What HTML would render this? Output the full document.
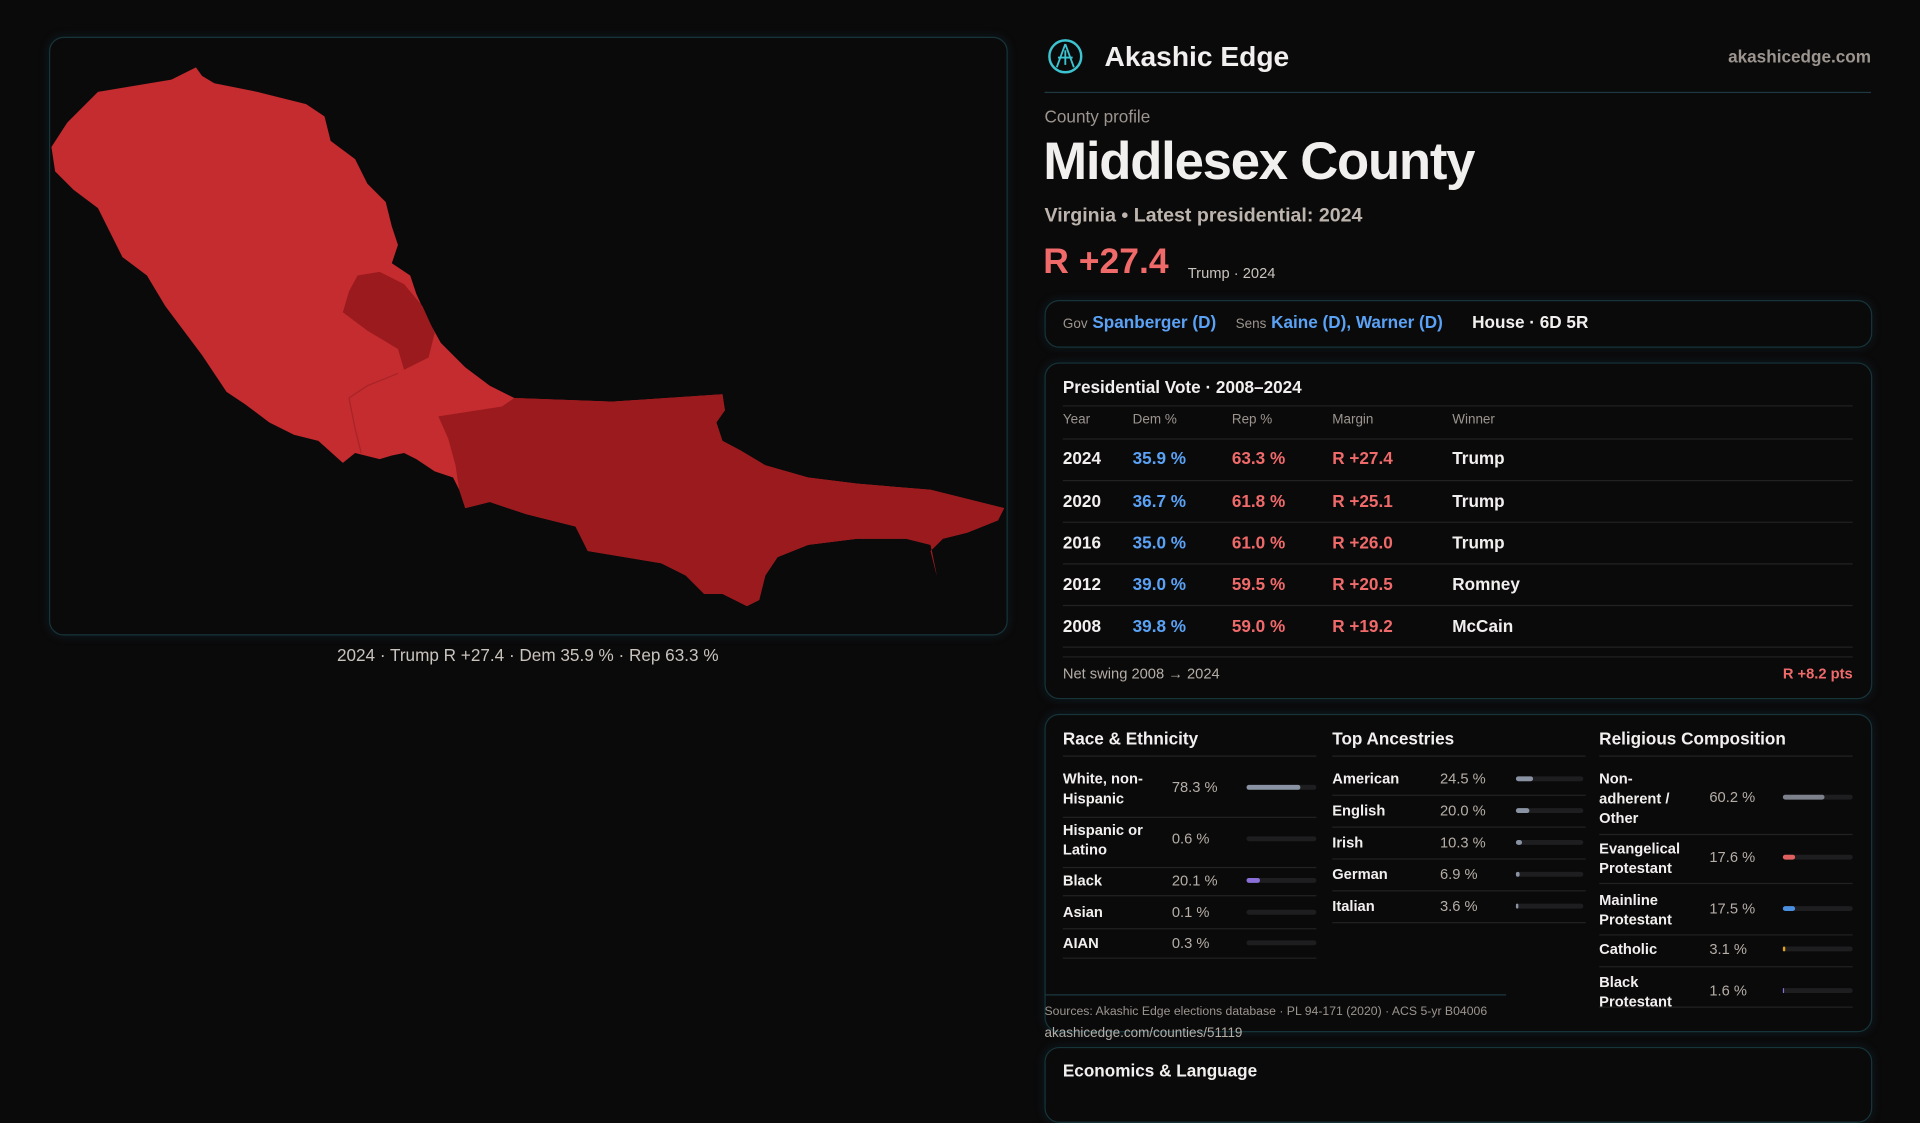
<!DOCTYPE html>
<html><head><meta charset="utf-8">
<style>
html,body{margin:0;padding:0;background:#0b0a0b;width:1920px;height:1080px;overflow:hidden}
#w{position:absolute;left:0;top:0;width:1568px;height:882px;transform:scale(1.22449);transform-origin:0 0;font-family:"Liberation Sans",sans-serif;color:#f2f0ee}
.a{position:absolute;white-space:nowrap}
.box{position:absolute;border:1px solid #16343a;border-radius:12px;background:#0b0a0b;box-shadow:0 0 8px rgba(20,80,90,0.25)}
.hl{position:absolute;height:1px;background:#222}
.g{color:#9c958f}
.b{color:#5aa2f5}
.r{color:#f06a6a}
.bar{position:absolute;height:4px;border-radius:2px;background:#1e1e20}
.bar i{position:absolute;left:0;top:0;height:4px;border-radius:2px}
.t{font-size:13px;font-weight:bold}
.s{font-size:12px}
</style></head><body><div id="w">
<div class="box" style="left:40px;top:30px;width:781px;height:487px"></div>
<svg class="a" style="left:0;top:0" width="1568" height="882" viewBox="0 0 1568 882">
<path fill="#c42c2f" d="M160,55 L165,62 175,68 210,75 250,85 265,95 270,115 290,130 300,150 315,165 320,185 325,200 320,215 335,225 340,240 350,262 360,280 380,300 400,315 420,325 500,328 590,322 592,335 585,345 590,360 605,368 625,380 660,390 700,395 760,400 800,410 820,415 815,425 790,435 770,440 760,450 765,470 760,445 740,440 700,440 660,445 635,455 625,470 620,490 610,495 590,485 575,485 560,470 540,460 510,455 480,450 470,430 430,420 400,410 380,415 375,400 370,390 355,385 340,375 330,370 320,372 310,375 290,370 280,378 260,360 240,355 220,345 200,330 185,320 175,305 165,290 150,270 135,250 120,225 100,210 90,190 80,170 60,155 45,140 42,120 55,100 80,75 110,70 140,65Z"/>
<path fill="#9a1a1d" d="M358,340 L410,332 420,325 500,328 590,322 592,335 585,345 590,360 605,368 625,380 660,390 700,395 760,400 800,410 820,415 815,425 790,435 770,440 760,450 765,470 760,445 740,440 700,440 660,445 635,455 625,470 620,490 610,495 590,485 575,485 560,470 540,460 510,455 480,450 470,430 430,420 400,410 380,415 375,400 372,380 366,358Z"/>
<path fill="#9a1a1d" d="M292,225 L310,222 330,232 345,250 355,272 350,292 330,302 325,285 300,270 280,255 285,238Z"/>
<path fill="none" stroke="#a82427" stroke-width="1" d="M285,325 L300,315 325,305 M285,325 L290,350 295,370"/>
</svg>
<div class="a g" style="left:0;width:862px;text-align:center;top:527px;font-size:14px;color:#c9c3bd">2024 · Trump R +27.4 · Dem 35.9 % · Rep 63.3 %</div>

<svg class="a" style="left:855px;top:31px" width="30" height="30" viewBox="0 0 30 30"><circle cx="15" cy="15" r="13" fill="none" stroke="#3cc4d0" stroke-width="2"/><path d="M15,5 L8,24 M15,5 L22,24 M9,16 L21,16 M15,10 L15,22" stroke="#3cc4d0" stroke-width="1.5" fill="none"/></svg>
<div class="a" style="left:902px;top:33px;font-size:23px;font-weight:bold">Akashic Edge</div>
<div class="a g" style="right:40px;top:38px;font-size:14px;font-weight:bold">akashicedge.com</div>
<div class="hl" style="left:853px;width:675px;top:75px;background:#1c3a40"></div>
<div class="a g" style="left:853px;top:87px;font-size:14px">County profile</div>
<div class="a" style="left:852px;top:108px;font-size:43px;font-weight:bold;letter-spacing:-1px">Middlesex County</div>
<div class="a" style="left:853px;top:168px;font-size:16px;font-weight:bold;color:#bdb5ad">Virginia • Latest presidential: 2024</div>
<div class="a r" style="left:852px;top:198px;font-size:29px;font-weight:bold">R +27.4</div>
<div class="a" style="left:970px;top:216px;font-size:12px;color:#c9c3bd">Trump · 2024</div>

<div class="box" style="left:853px;top:245px;width:674px;height:37px"></div>
<div class="a" style="left:868px;top:255px;font-size:14px"><span class="g" style="font-size:11px">Gov</span> <span class="b" style="font-weight:bold;margin-right:12px">Spanberger (D)</span> <span class="g" style="font-size:11px">Sens</span> <span class="b" style="font-weight:bold;margin-right:20px">Kaine (D), Warner (D)</span> <span style="font-weight:bold">House · 6D 5R</span></div>

<div class="box" style="left:853px;top:296px;width:674px;height:273px"></div>
<div class="a t" style="left:868px;top:308px;font-size:14px">Presidential Vote · 2008–2024</div>
<div class="hl" style="left:868px;width:645px;top:331px"></div>
<div class="a g" style="left:868px;top:337px;font-size:11px">Year</div>
<div class="a g" style="left:925px;top:337px;font-size:11px">Dem %</div>
<div class="a g" style="left:1006px;top:337px;font-size:11px">Rep %</div>
<div class="a g" style="left:1088px;top:337px;font-size:11px">Margin</div>
<div class="a g" style="left:1186px;top:337px;font-size:11px">Winner</div>
<div class="hl" style="left:868px;width:645px;top:358px"></div>
<div style="position:absolute;left:868px;top:358px;width:645px;font-size:14px;font-weight:bold">
<div style="position:relative;height:34px;border-bottom:1px solid #222"><span class="a" style="left:0;top:8px">2024</span><span class="a b" style="left:57px;top:8px">35.9 %</span><span class="a r" style="left:138px;top:8px">63.3 %</span><span class="a r" style="left:220px;top:8px">R +27.4</span><span class="a" style="left:318px;top:8px">Trump</span></div>
<div style="position:relative;height:33px;border-bottom:1px solid #222"><span class="a" style="left:0;top:8px">2020</span><span class="a b" style="left:57px;top:8px">36.7 %</span><span class="a r" style="left:138px;top:8px">61.8 %</span><span class="a r" style="left:220px;top:8px">R +25.1</span><span class="a" style="left:318px;top:8px">Trump</span></div>
<div style="position:relative;height:33px;border-bottom:1px solid #222"><span class="a" style="left:0;top:8px">2016</span><span class="a b" style="left:57px;top:8px">35.0 %</span><span class="a r" style="left:138px;top:8px">61.0 %</span><span class="a r" style="left:220px;top:8px">R +26.0</span><span class="a" style="left:318px;top:8px">Trump</span></div>
<div style="position:relative;height:33px;border-bottom:1px solid #222"><span class="a" style="left:0;top:8px">2012</span><span class="a b" style="left:57px;top:8px">39.0 %</span><span class="a r" style="left:138px;top:8px">59.5 %</span><span class="a r" style="left:220px;top:8px">R +20.5</span><span class="a" style="left:318px;top:8px">Romney</span></div>
<div style="position:relative;height:33px;border-bottom:1px solid #222"><span class="a" style="left:0;top:8px">2008</span><span class="a b" style="left:57px;top:8px">39.8 %</span><span class="a r" style="left:138px;top:8px">59.0 %</span><span class="a r" style="left:220px;top:8px">R +19.2</span><span class="a" style="left:318px;top:8px">McCain</span></div>
</div>
<div class="hl" style="left:868px;width:645px;top:536px"></div>
<div class="a" style="left:868px;top:543px;font-size:12px;color:#b5aea7">Net swing 2008 → 2024</div>
<div class="a r" style="right:55px;top:543px;font-size:12px;font-weight:bold">R +8.2 pts</div>

<div class="box" style="left:853px;top:583px;width:674px;height:258px"></div>
<div class="a t" style="left:868px;top:595px;font-size:14px">Race &amp; Ethnicity</div>
<div class="a t" style="left:1088px;top:595px;font-size:14px">Top Ancestries</div>
<div class="a t" style="left:1306px;top:595px;font-size:14px">Religious Composition</div>
<div class="hl" style="left:868px;width:207px;top:617px"></div>
<div class="hl" style="left:1088px;width:207px;top:617px"></div>
<div class="hl" style="left:1306px;width:207px;top:617px"></div>

<div class="a s" style="left:868px;top:628px;font-weight:bold;line-height:16px">White, non-<br>Hispanic</div><div class="a s g" style="left:957px;top:636px;color:#b5aea7">78.3 %</div><div class="bar" style="left:1018px;top:641px;width:57px"><i style="width:44px;background:#8a93a3"></i></div>
<div class="hl" style="left:868px;width:207px;top:667px"></div>
<div class="a s" style="left:868px;top:670px;font-weight:bold;line-height:16px">Hispanic or<br>Latino</div><div class="a s" style="left:957px;top:678px;color:#b5aea7">0.6 %</div><div class="bar" style="left:1018px;top:683px;width:57px"></div>
<div class="hl" style="left:868px;width:207px;top:708px"></div>
<div class="a s" style="left:868px;top:712px;font-weight:bold">Black</div><div class="a s" style="left:957px;top:712px;color:#b5aea7">20.1 %</div><div class="bar" style="left:1018px;top:717px;width:57px"><i style="width:11px;background:#8b6fd8"></i></div>
<div class="hl" style="left:868px;width:207px;top:731px"></div>
<div class="a s" style="left:868px;top:738px;font-weight:bold">Asian</div><div class="a s" style="left:957px;top:738px;color:#b5aea7">0.1 %</div><div class="bar" style="left:1018px;top:743px;width:57px"></div>
<div class="hl" style="left:868px;width:207px;top:758px"></div>
<div class="a s" style="left:868px;top:763px;font-weight:bold">AIAN</div><div class="a s" style="left:957px;top:763px;color:#b5aea7">0.3 %</div><div class="bar" style="left:1018px;top:768px;width:57px"></div>
<div class="hl" style="left:868px;width:207px;top:782px"></div>

<div class="a s" style="left:1088px;top:629px;font-weight:bold">American</div><div class="a s" style="left:1176px;top:629px;color:#b5aea7">24.5 %</div><div class="bar" style="left:1238px;top:634px;width:55px"><i style="width:14px;background:#8a93a3"></i></div>
<div class="hl" style="left:1088px;width:207px;top:649px"></div>
<div class="a s" style="left:1088px;top:655px;font-weight:bold">English</div><div class="a s" style="left:1176px;top:655px;color:#b5aea7">20.0 %</div><div class="bar" style="left:1238px;top:660px;width:55px"><i style="width:11px;background:#8a93a3"></i></div>
<div class="hl" style="left:1088px;width:207px;top:675px"></div>
<div class="a s" style="left:1088px;top:681px;font-weight:bold">Irish</div><div class="a s" style="left:1176px;top:681px;color:#b5aea7">10.3 %</div><div class="bar" style="left:1238px;top:686px;width:55px"><i style="width:5px;background:#8a93a3"></i></div>
<div class="hl" style="left:1088px;width:207px;top:701px"></div>
<div class="a s" style="left:1088px;top:707px;font-weight:bold">German</div><div class="a s" style="left:1176px;top:707px;color:#b5aea7">6.9 %</div><div class="bar" style="left:1238px;top:712px;width:55px"><i style="width:3px;background:#8a93a3"></i></div>
<div class="hl" style="left:1088px;width:207px;top:727px"></div>
<div class="a s" style="left:1088px;top:733px;font-weight:bold">Italian</div><div class="a s" style="left:1176px;top:733px;color:#b5aea7">3.6 %</div><div class="bar" style="left:1238px;top:738px;width:55px"><i style="width:2px;background:#8a93a3"></i></div>
<div class="hl" style="left:1088px;width:207px;top:753px"></div>

<div class="a s" style="left:1306px;top:628px;font-weight:bold;line-height:16px">Non-<br>adherent /<br>Other</div><div class="a s" style="left:1396px;top:644px;color:#b5aea7">60.2 %</div><div class="bar" style="left:1456px;top:649px;width:57px"><i style="width:34px;background:#7d818b"></i></div>
<div class="hl" style="left:1306px;width:207px;top:681px"></div>
<div class="a s" style="left:1306px;top:685px;font-weight:bold;line-height:16px">Evangelical<br>Protestant</div><div class="a s" style="left:1396px;top:693px;color:#b5aea7">17.6 %</div><div class="bar" style="left:1456px;top:698px;width:57px"><i style="width:10px;background:#e06060"></i></div>
<div class="hl" style="left:1306px;width:207px;top:721px"></div>
<div class="a s" style="left:1306px;top:727px;font-weight:bold;line-height:16px">Mainline<br>Protestant</div><div class="a s" style="left:1396px;top:735px;color:#b5aea7">17.5 %</div><div class="bar" style="left:1456px;top:740px;width:57px"><i style="width:10px;background:#4a8fe0"></i></div>
<div class="hl" style="left:1306px;width:207px;top:763px"></div>
<div class="a s" style="left:1306px;top:768px;font-weight:bold">Catholic</div><div class="a s" style="left:1396px;top:768px;color:#b5aea7">3.1 %</div><div class="bar" style="left:1456px;top:773px;width:57px"><i style="width:2px;background:#e0a020"></i></div>
<div class="hl" style="left:1306px;width:207px;top:789px"></div>
<div class="a s" style="left:1306px;top:794px;font-weight:bold;line-height:16px">Black<br>Protestant</div><div class="a s" style="left:1396px;top:802px;color:#b5aea7">1.6 %</div><div class="bar" style="left:1456px;top:807px;width:57px"><i style="width:1px;background:#8b6fd8"></i></div>
<div class="hl" style="left:1306px;width:207px;top:822px"></div>

<div class="hl" style="left:853px;width:377px;top:812px;background:#1c3a40"></div>
<div class="a" style="left:853px;top:821px;font-size:10px;color:#9c958f">Sources: Akashic Edge elections database · PL 94-171 (2020) · ACS 5-yr B04006</div>
<div class="a" style="left:853px;top:838px;font-size:11px;color:#b5aea7">akashicedge.com/counties/51119</div>

<div class="box" style="left:853px;top:855px;width:674px;height:60px"></div>
<div class="a t" style="left:868px;top:866px;font-size:14px">Economics &amp; Language</div>
</div></body></html>
